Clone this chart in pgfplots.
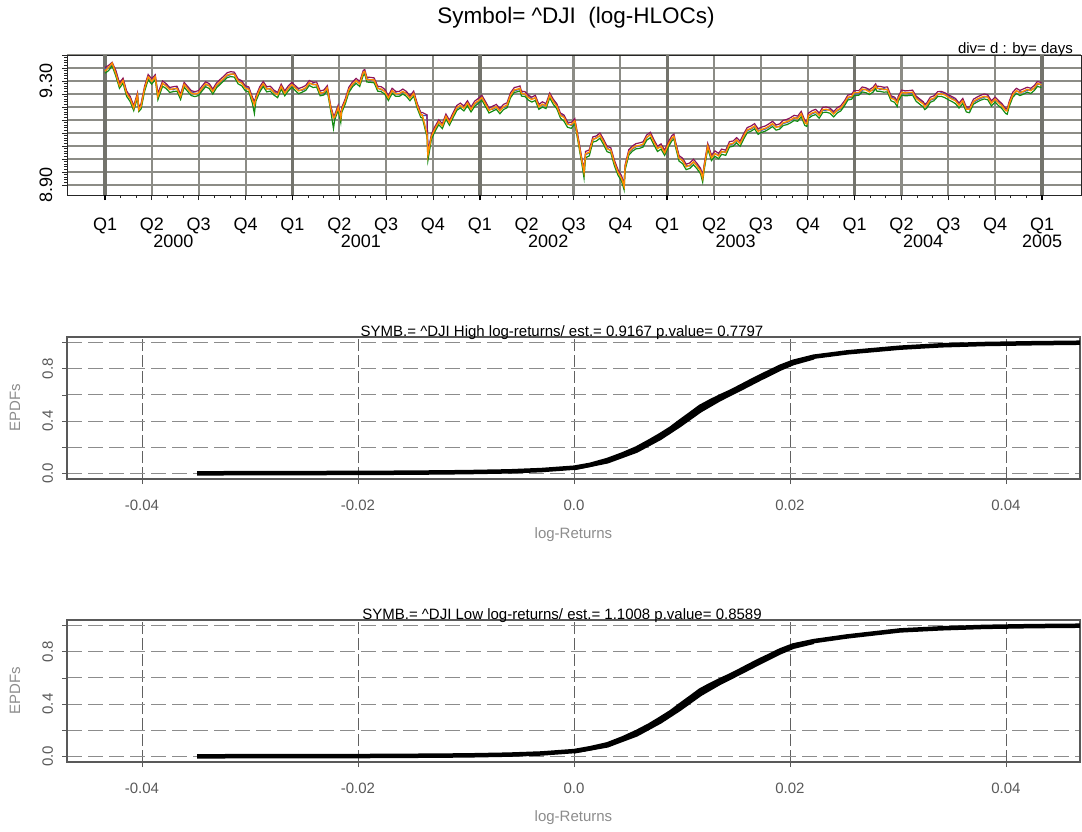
\documentclass[border=0pt]{standalone}
\usepackage{fontspec}
\setmainfont{Liberation Sans}
\usepackage{pgfplots}
\usepackage{pgfplotstable}
\pgfplotsset{compat=1.18}

\definecolor{hcol}{RGB}{140,20,90}
\definecolor{ocol}{RGB}{50,90,200}
\definecolor{ccol}{RGB}{255,140,0}
\definecolor{lcol}{RGB}{20,140,20}
\definecolor{gridc}{RGB}{140,140,134}
\definecolor{q1c}{RGB}{115,115,108}

\pgfplotstableread{
t H O C L
2000.000 9.352 9.349 9.338 9.330
2000.019 9.360 9.348 9.352 9.340
2000.038 9.372 9.362 9.369 9.358
2000.058 9.340 9.335 9.328 9.318
2000.077 9.292 9.289 9.282 9.272
2000.096 9.311 9.300 9.302 9.292
2000.115 9.262 9.258 9.252 9.241
2000.134 9.241 9.236 9.232 9.221
2000.153 9.205 9.199 9.196 9.186
2000.173 9.254 9.244 9.246 9.236
2000.180 9.200 9.194 9.190 9.183
2000.192 9.212 9.200 9.203 9.192
2000.211 9.280 9.268 9.271 9.260
2000.230 9.325 9.312 9.316 9.305
2000.249 9.309 9.302 9.299 9.288
2000.268 9.324 9.313 9.316 9.306
2000.282 9.252 9.255 9.240 9.228
2000.307 9.300 9.289 9.291 9.280
2000.326 9.290 9.285 9.281 9.271
2000.345 9.275 9.270 9.267 9.256
2000.364 9.278 9.266 9.270 9.259
2000.384 9.280 9.274 9.271 9.261
2000.403 9.249 9.244 9.240 9.229
2000.422 9.295 9.283 9.287 9.276
2000.441 9.279 9.273 9.270 9.260
2000.460 9.263 9.258 9.254 9.244
2000.479 9.259 9.253 9.250 9.240
2000.499 9.263 9.251 9.254 9.244
2000.518 9.281 9.269 9.272 9.262
2000.537 9.297 9.285 9.289 9.278
2000.556 9.290 9.285 9.281 9.271
2000.575 9.269 9.264 9.260 9.250
2000.595 9.293 9.281 9.284 9.274
2000.614 9.306 9.294 9.297 9.287
2000.633 9.318 9.307 9.310 9.300
2000.652 9.332 9.320 9.323 9.313
2000.671 9.336 9.325 9.327 9.317
2000.690 9.334 9.329 9.326 9.315
2000.710 9.308 9.303 9.299 9.289
2000.729 9.301 9.295 9.292 9.282
2000.748 9.282 9.277 9.273 9.263
2000.767 9.277 9.271 9.268 9.258
2000.786 9.239 9.233 9.229 9.215
2000.797 9.218 9.226 9.208 9.175
2000.805 9.242 9.230 9.233 9.222
2000.825 9.277 9.265 9.268 9.257
2000.844 9.298 9.286 9.289 9.279
2000.863 9.278 9.272 9.269 9.258
2000.882 9.280 9.268 9.271 9.261
2000.901 9.265 9.259 9.256 9.246
2000.921 9.256 9.250 9.247 9.236
2000.940 9.288 9.276 9.279 9.269
2000.959 9.262 9.257 9.253 9.243
2000.978 9.281 9.270 9.272 9.262
2000.997 9.295 9.283 9.286 9.276
2001.014 9.283 9.277 9.274 9.264
2001.033 9.271 9.265 9.262 9.251
2001.052 9.276 9.264 9.267 9.257
2001.071 9.283 9.272 9.274 9.264
2001.090 9.302 9.290 9.293 9.283
2001.110 9.295 9.289 9.286 9.275
2001.129 9.296 9.284 9.287 9.277
2001.148 9.262 9.257 9.253 9.243
2001.167 9.265 9.253 9.256 9.246
2001.186 9.282 9.270 9.273 9.262
2001.205 9.202 9.197 9.193 9.182
2001.219 9.167 9.162 9.158 9.117
2001.225 9.169 9.157 9.160 9.149
2001.244 9.207 9.195 9.198 9.188
2001.258 9.167 9.170 9.158 9.140
2001.263 9.198 9.186 9.189 9.179
2001.282 9.232 9.220 9.223 9.212
2001.301 9.276 9.264 9.267 9.256
2001.321 9.297 9.285 9.288 9.278
2001.340 9.310 9.299 9.301 9.291
2001.359 9.298 9.293 9.289 9.279
2001.378 9.341 9.329 9.333 9.322
2001.386 9.344 9.332 9.336 9.326
2001.397 9.315 9.310 9.306 9.296
2001.416 9.314 9.302 9.305 9.295
2001.436 9.312 9.307 9.304 9.293
2001.455 9.280 9.274 9.271 9.261
2001.474 9.278 9.266 9.269 9.259
2001.493 9.268 9.263 9.259 9.249
2001.512 9.244 9.239 9.235 9.225
2001.532 9.272 9.260 9.263 9.253
2001.551 9.260 9.255 9.251 9.241
2001.570 9.260 9.248 9.251 9.241
2001.589 9.269 9.257 9.260 9.250
2001.608 9.260 9.255 9.251 9.241
2001.627 9.243 9.238 9.234 9.224
2001.647 9.261 9.249 9.252 9.242
2001.666 9.214 9.209 9.205 9.195
2001.685 9.179 9.174 9.170 9.160
2001.693 9.179 9.167 9.170 9.158
2001.718 9.170 9.168 9.096 9.085
2001.723 9.026 9.035 9.016 8.995
2001.742 9.097 9.085 9.088 9.077
2001.762 9.127 9.115 9.118 9.108
2001.781 9.151 9.140 9.143 9.132
2001.800 9.136 9.131 9.128 9.117
2001.819 9.173 9.161 9.164 9.153
2001.838 9.149 9.143 9.140 9.130
2001.858 9.179 9.167 9.170 9.160
2001.877 9.206 9.194 9.197 9.187
2001.896 9.215 9.203 9.206 9.196
2001.915 9.204 9.199 9.195 9.185
2001.934 9.224 9.212 9.215 9.205
2001.953 9.200 9.195 9.191 9.181
2001.973 9.223 9.211 9.214 9.203
2001.992 9.233 9.221 9.224 9.214
2002.011 9.245 9.233 9.236 9.226
2002.030 9.221 9.216 9.212 9.202
2002.049 9.196 9.191 9.187 9.177
2002.068 9.203 9.191 9.194 9.184
2002.088 9.210 9.198 9.201 9.191
2002.107 9.194 9.188 9.185 9.174
2002.126 9.210 9.198 9.201 9.190
2002.145 9.216 9.204 9.207 9.197
2002.164 9.255 9.243 9.246 9.236
2002.184 9.275 9.263 9.266 9.256
2002.203 9.278 9.266 9.269 9.259
2002.214 9.281 9.269 9.272 9.262
2002.222 9.261 9.256 9.252 9.242
2002.241 9.259 9.247 9.250 9.240
2002.258 9.246 9.241 9.237 9.227
2002.277 9.238 9.233 9.229 9.219
2002.296 9.245 9.233 9.236 9.225
2002.315 9.210 9.205 9.201 9.191
2002.334 9.220 9.208 9.211 9.200
2002.353 9.213 9.208 9.204 9.194
2002.373 9.254 9.242 9.245 9.235
2002.392 9.230 9.225 9.221 9.210
2002.411 9.212 9.207 9.203 9.193
2002.430 9.177 9.172 9.168 9.158
2002.449 9.169 9.163 9.160 9.145
2002.468 9.142 9.137 9.133 9.122
2002.488 9.141 9.129 9.132 9.118
2002.507 9.155 9.143 9.146 9.136
2002.526 9.079 9.073 9.069 9.058
2002.545 8.999 8.994 8.990 8.978
2002.556 8.959 8.965 8.949 8.927
2002.564 9.029 9.017 9.020 9.005
2002.584 9.035 9.023 9.026 9.012
2002.603 9.085 9.073 9.076 9.065
2002.622 9.089 9.083 9.080 9.069
2002.641 9.100 9.088 9.091 9.080
2002.660 9.076 9.071 9.067 9.056
2002.679 9.049 9.043 9.039 9.028
2002.699 9.043 9.031 9.034 9.023
2002.718 8.995 8.990 8.986 8.974
2002.737 8.959 8.953 8.949 8.938
2002.756 8.936 8.931 8.926 8.915
2002.770 8.903 8.908 8.894 8.881
2002.775 8.977 8.965 8.968 8.957
2002.795 9.036 9.024 9.027 9.015
2002.814 9.050 9.038 9.041 9.030
2002.833 9.059 9.047 9.050 9.039
2002.852 9.062 9.050 9.052 9.041
2002.871 9.066 9.054 9.057 9.046
2002.890 9.092 9.080 9.083 9.072
2002.910 9.103 9.097 9.093 9.082
2002.929 9.074 9.069 9.065 9.054
2002.948 9.049 9.044 9.040 9.029
2002.967 9.058 9.046 9.049 9.038
2002.986 9.034 9.029 9.024 9.014
2003.008 9.069 9.057 9.060 9.049
2003.025 9.090 9.078 9.081 9.070
2003.036 9.096 9.084 9.087 9.077
2003.044 9.067 9.062 9.058 9.047
2003.063 9.013 9.008 9.003 8.992
2003.082 9.003 8.991 8.994 8.982
2003.101 8.980 8.975 8.970 8.959
2003.121 8.985 8.973 8.976 8.964
2003.140 8.999 8.987 8.989 8.978
2003.159 8.983 8.978 8.973 8.962
2003.178 8.964 8.959 8.954 8.943
2003.189 8.936 8.941 8.926 8.911
2003.197 8.979 8.967 8.969 8.958
2003.216 9.060 9.048 9.050 9.040
2003.236 9.015 9.010 9.005 8.994
2003.255 9.031 9.019 9.021 9.010
2003.274 9.022 9.017 9.012 9.001
2003.290 9.038 9.026 9.029 9.018
2003.312 9.034 9.029 9.025 9.014
2003.332 9.067 9.055 9.057 9.046
2003.351 9.069 9.058 9.060 9.049
2003.370 9.082 9.070 9.073 9.062
2003.389 9.069 9.064 9.060 9.049
2003.408 9.097 9.085 9.088 9.077
2003.427 9.121 9.109 9.112 9.101
2003.447 9.127 9.115 9.118 9.107
2003.466 9.136 9.124 9.127 9.116
2003.485 9.116 9.111 9.106 9.095
2003.501 9.122 9.110 9.113 9.102
2003.523 9.127 9.115 9.118 9.107
2003.542 9.135 9.123 9.126 9.115
2003.562 9.145 9.133 9.136 9.125
2003.581 9.131 9.126 9.122 9.111
2003.600 9.135 9.123 9.126 9.115
2003.619 9.149 9.137 9.140 9.129
2003.638 9.152 9.140 9.143 9.132
2003.658 9.159 9.147 9.150 9.139
2003.677 9.168 9.156 9.159 9.148
2003.696 9.165 9.160 9.156 9.145
2003.715 9.183 9.171 9.174 9.163
2003.734 9.149 9.144 9.139 9.129
2003.745 9.144 9.139 9.135 9.125
2003.753 9.176 9.164 9.167 9.156
2003.773 9.186 9.174 9.177 9.166
2003.792 9.191 9.179 9.182 9.171
2003.811 9.177 9.172 9.168 9.157
2003.830 9.199 9.187 9.190 9.179
2003.849 9.200 9.188 9.191 9.180
2003.868 9.196 9.191 9.187 9.176
2003.888 9.182 9.177 9.173 9.162
2003.907 9.197 9.185 9.188 9.177
2003.926 9.205 9.193 9.196 9.185
2003.945 9.223 9.211 9.215 9.204
2003.964 9.246 9.234 9.238 9.227
2003.984 9.249 9.237 9.240 9.230
2003.997 9.263 9.251 9.255 9.244
2004.022 9.263 9.251 9.255 9.245
2004.041 9.277 9.265 9.269 9.258
2004.060 9.274 9.269 9.266 9.255
2004.079 9.267 9.262 9.258 9.248
2004.098 9.276 9.264 9.268 9.257
2004.112 9.289 9.277 9.281 9.271
2004.118 9.280 9.275 9.271 9.261
2004.137 9.279 9.267 9.271 9.260
2004.156 9.276 9.271 9.267 9.257
2004.175 9.277 9.265 9.268 9.258
2004.194 9.243 9.238 9.234 9.224
2004.213 9.238 9.233 9.229 9.218
2004.227 9.224 9.219 9.215 9.202
2004.232 9.240 9.228 9.231 9.221
2004.251 9.265 9.253 9.256 9.246
2004.270 9.262 9.257 9.254 9.243
2004.290 9.263 9.251 9.255 9.244
2004.309 9.265 9.253 9.257 9.246
2004.328 9.242 9.237 9.233 9.222
2004.347 9.231 9.226 9.222 9.211
2004.366 9.220 9.215 9.212 9.200
2004.374 9.210 9.214 9.201 9.190
2004.385 9.216 9.204 9.207 9.196
2004.404 9.238 9.226 9.229 9.218
2004.423 9.243 9.231 9.234 9.224
2004.443 9.259 9.247 9.250 9.240
2004.462 9.260 9.255 9.251 9.241
2004.481 9.255 9.250 9.247 9.236
2004.500 9.247 9.242 9.238 9.228
2004.519 9.240 9.235 9.231 9.221
2004.538 9.233 9.228 9.224 9.213
2004.557 9.215 9.210 9.207 9.196
2004.577 9.233 9.221 9.224 9.213
2004.596 9.200 9.195 9.192 9.181
2004.612 9.200 9.195 9.192 9.178
2004.615 9.201 9.189 9.193 9.182
2004.634 9.230 9.218 9.221 9.211
2004.653 9.238 9.226 9.230 9.219
2004.672 9.245 9.233 9.236 9.226
2004.691 9.250 9.238 9.241 9.231
2004.710 9.247 9.242 9.238 9.228
2004.730 9.224 9.219 9.215 9.204
2004.749 9.238 9.226 9.230 9.219
2004.768 9.225 9.220 9.216 9.205
2004.787 9.212 9.207 9.204 9.193
2004.806 9.194 9.189 9.186 9.175
2004.814 9.194 9.189 9.185 9.172
2004.825 9.222 9.210 9.213 9.202
2004.844 9.257 9.245 9.248 9.238
2004.863 9.272 9.260 9.263 9.252
2004.882 9.264 9.259 9.255 9.244
2004.902 9.270 9.258 9.261 9.250
2004.921 9.276 9.264 9.268 9.257
2004.940 9.272 9.267 9.263 9.252
2004.959 9.283 9.271 9.274 9.264
2004.975 9.298 9.286 9.290 9.279
2004.997 9.294 9.289 9.286 9.275
}\hloc

\pgfplotstableread{
x y
-0.0349 0.000
-0.0300 0.001
-0.0250 0.002
-0.0200 0.003
-0.0150 0.005
-0.0100 0.009
-0.0060 0.015
-0.0030 0.025
0.0000 0.043
0.0015 0.065
0.0031 0.102
0.0045 0.145
0.0058 0.191
0.0070 0.245
0.0080 0.293
0.0090 0.345
0.0098 0.395
0.0108 0.455
0.0117 0.510
0.0126 0.550
0.0135 0.587
0.0145 0.625
0.0154 0.663
0.0163 0.702
0.0172 0.740
0.0182 0.780
0.0191 0.816
0.0203 0.854
0.0222 0.893
0.0253 0.926
0.0302 0.962
0.0340 0.980
0.0380 0.990
0.0425 0.996
0.0469 1.000
}\ecdfH

\pgfplotstableread{
x y
0.0000 0.038
0.0031 0.090
0.0058 0.172
0.0080 0.270
0.0098 0.368
0.0117 0.480
0.0135 0.566
0.0154 0.645
0.0172 0.722
0.0191 0.800
0.0203 0.842
0.0222 0.886
}\ecdfHb

\pgfplotstableread{
x y
-0.0349 0.000
-0.0300 0.001
-0.0250 0.001
-0.0200 0.002
-0.0150 0.004
-0.0100 0.007
-0.0060 0.013
-0.0030 0.022
0.0000 0.040
0.0015 0.062
0.0031 0.092
0.0045 0.137
0.0058 0.186
0.0070 0.238
0.0080 0.288
0.0090 0.340
0.0098 0.390
0.0108 0.450
0.0117 0.505
0.0126 0.545
0.0135 0.582
0.0145 0.620
0.0154 0.658
0.0163 0.697
0.0172 0.735
0.0182 0.774
0.0191 0.811
0.0203 0.849
0.0222 0.882
0.0253 0.918
0.0302 0.964
0.0340 0.980
0.0380 0.991
0.0425 0.997
0.0469 1.000
}\ecdfL

\pgfplotstableread{
x y
0.0000 0.036
0.0031 0.082
0.0058 0.166
0.0080 0.265
0.0098 0.362
0.0117 0.475
0.0135 0.561
0.0154 0.640
0.0172 0.717
0.0191 0.795
0.0203 0.837
0.0222 0.875
}\ecdfLb

\pgfplotsset{
  lowpanel/.style={
    anchor=south west, scale only axis, width=1013pt, height=142pt,
    xmin=-0.04694, xmax=0.04685, ymin=-0.0436, ymax=1.0436,
    scaled x ticks=false, scaled y ticks=false,
    xtick={-0.04,-0.02,0,0.02,0.04},
    xticklabels={-0.04,-0.02,0.0,0.02,0.04},
    ytick={0,0.2,0.4,0.6,0.8,1.0},
    yticklabels={0.0,,0.4,,0.8,},
    xtick pos=left, ytick pos=left,
    tick align=outside, major tick length=5pt,
    tick style={black!65, line width=0.8pt},
    axis line style={black!65, line width=1.2pt},
    grid=major,
    x grid style={black!62, line width=0.8pt, dash pattern=on 12pt off 4pt},
    y grid style={black!45, line width=1pt, dash pattern=on 15pt off 6pt},
    ticklabel style={text=black!65, font=\fontsize{15}{17}\selectfont},
    xticklabel style={anchor=base},
    xticklabel shift=26pt,
    yticklabel style={rotate=90, anchor=base},
    yticklabel shift=9pt,
    xlabel={log-Returns}, ylabel={EPDFs},
    label style={text=black!45, font=\fontsize{15}{17}\selectfont},
    xlabel style={at={(axis description cs:0.5,-0.394)}, anchor=center},
    ylabel style={at={(axis description cs:-0.0513,0.5)}, anchor=center},
    /pgf/number format/assume math mode=true,
  }
}

\begin{document}
\begin{tikzpicture}
\begin{axis}[
  at={(67pt,-195pt)}, anchor=south west, scale only axis,
  width=1014pt, height=140pt,
  xmin=1999.797, xmax=2005.208, ymin=8.8615, ymax=9.40,
  clip=false,
  /pgf/number format/assume math mode=true,
  xtick={2000,2000.25,2000.5,2000.75,2001,2001.25,2001.5,2001.75,2002,2002.25,2002.5,2002.75,2003,2003.25,2003.5,2003.75,2004,2004.25,2004.5,2004.75,2005},
  xticklabels={Q1,Q2,Q3,Q4,Q1,Q2,Q3,Q4,Q1,Q2,Q3,Q4,Q1,Q2,Q3,Q4,Q1,Q2,Q3,Q4,Q1},
  minor x tick num=2,
  ytick={8.90,8.95,9.00,9.05,9.10,9.15,9.20,9.25,9.30,9.35,9.40},
  yticklabels={8.90,,,,,,,,9.30,,},
  minor y tick num=4,
  xtick pos=left, ytick pos=left,
  tick align=outside, major tick length=5pt, minor tick length=3pt,
  tick style={black!85, line width=0.8pt},
  axis line style={black!85, line width=1pt},
  grid=major,
  major grid style={gridc, line width=2.1pt},
  extra x ticks={2000,2001,2002,2003,2004,2005},
  extra x tick labels={},
  extra x tick style={grid=major, major grid style={q1c, line width=3.4pt}, tick style={black, line width=1.6pt}},
  ticklabel style={font=\fontsize{18}{20}\selectfont},
  xticklabel style={anchor=base},
  xticklabel shift=30pt,
  yticklabel style={rotate=90, anchor=base},
  yticklabel shift=10pt,
]
\addplot[ocol, line width=1.2pt] table[x=t,y=O] {\hloc};
\addplot[hcol, line width=1.2pt] table[x=t,y=H] {\hloc};
\addplot[lcol, line width=1.2pt] table[x=t,y=L] {\hloc};
\addplot[ccol, line width=1.4pt] table[x=t,y=C] {\hloc};
\node[anchor=base, font=\fontsize{18}{20}\selectfont, yshift=-52pt] at (axis cs:2000.365,8.8615) {2000};
\node[anchor=base, font=\fontsize{18}{20}\selectfont, yshift=-52pt] at (axis cs:2001.365,8.8615) {2001};
\node[anchor=base, font=\fontsize{18}{20}\selectfont, yshift=-52pt] at (axis cs:2002.365,8.8615) {2002};
\node[anchor=base, font=\fontsize{18}{20}\selectfont, yshift=-52pt] at (axis cs:2003.365,8.8615) {2003};
\node[anchor=base, font=\fontsize{18}{20}\selectfont, yshift=-52pt] at (axis cs:2004.365,8.8615) {2004};
\node[anchor=base, font=\fontsize{18}{20}\selectfont, yshift=-52pt] at (axis cs:2005.0,8.8615) {2005};
\end{axis}

\begin{axis}[lowpanel, at={(67pt,-479pt)}]
\addplot[black, line width=4.5pt] table[x=x,y=y] {\ecdfH};
\addplot[black, line width=4pt] table[x=x,y=y] {\ecdfHb};
\end{axis}

\begin{axis}[lowpanel, at={(67pt,-762pt)}]
\addplot[black, line width=4.5pt] table[x=x,y=y] {\ecdfL};
\addplot[black, line width=4pt] table[x=x,y=y] {\ecdfLb};
\end{axis}

\node[anchor=base, font=\fontsize{22.5}{25}\selectfont] at (576pt,-23pt) {Symbol= \textasciicircum DJI\ \ (log-HLOCs)};
\node[anchor=base east, font=\fontsize{15}{17}\selectfont, inner sep=0pt] at (1073pt,-53pt) {div= d : by= days};
\node[anchor=base, font=\fontsize{15}{17}\selectfont, inner sep=0pt] at (562pt,-336pt) {SYMB.= \textasciicircum DJI High log-returns/ est.= 0.9167 p.value= 0.7797};
\node[anchor=base, font=\fontsize{15}{17}\selectfont, inner sep=0pt] at (562pt,-619pt) {SYMB.= \textasciicircum DJI Low log-returns/ est.= 1.1008 p.value= 0.8589};

\pgfresetboundingbox
\useasboundingbox (0pt,0pt) rectangle (1082pt,-831pt);
\end{tikzpicture}
\end{document}
